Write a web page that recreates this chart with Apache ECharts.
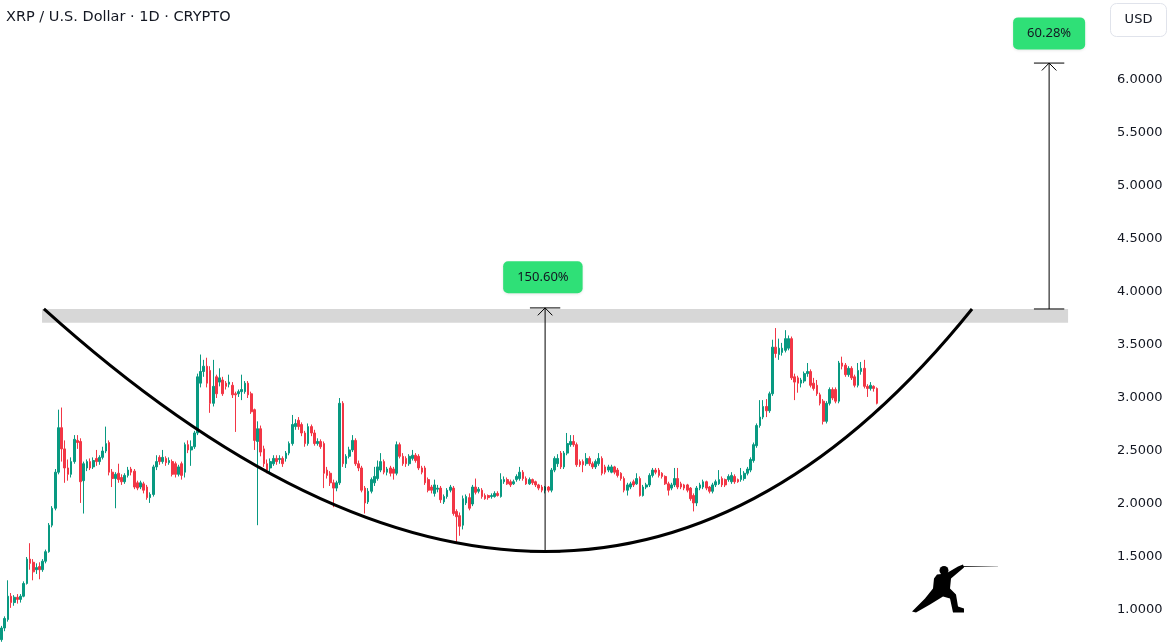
<!DOCTYPE html>
<html>
<head>
<meta charset="utf-8">
<script src="https://cdn.jsdelivr.net/npm/echarts@6/dist/echarts.min.js"></script>
<style>
  html, body { margin: 0; padding: 0; background: #fff; }
  #main { width: 1174px; height: 642px; }
</style>
</head>
<body>
<div id="main"></div>
<script>
// XRP / USD daily candles: [open, close, low, high]
const candles = [
  [0.72,0.83,0.70,0.85],[0.83,0.92,0.80,0.94],[0.91,1.13,0.89,1.28],[1.13,1.07,1.02,1.16],[1.07,1.12,1.04,1.14],
  [1.12,1.10,1.06,1.15],[1.10,1.13,1.07,1.15],[1.13,1.25,1.12,1.27],[1.25,1.48,1.24,1.50],[1.48,1.44,1.38,1.63],
  [1.45,1.36,1.28,1.48],[1.38,1.40,1.34,1.44],[1.41,1.38,1.29,1.45],[1.38,1.46,1.36,1.48],[1.46,1.55,1.44,1.57],
  [1.55,1.80,1.54,1.82],[1.80,1.96,1.78,1.98],[1.96,2.30,1.94,2.33],[2.30,2.72,2.28,2.89],[2.72,2.52,2.40,2.91],
  [2.52,2.34,2.20,2.60],[2.34,2.28,2.22,2.42],[2.28,2.40,2.25,2.44],[2.40,2.61,2.38,2.65],[2.60,2.58,2.52,2.65],
  [2.59,2.21,2.01,2.62],[2.22,2.38,1.91,2.40],[2.34,2.40,2.31,2.42],[2.40,2.34,2.32,2.43],[2.35,2.41,2.33,2.44],
  [2.43,2.40,2.36,2.51],[2.40,2.44,2.37,2.46],[2.44,2.50,2.42,2.54],[2.50,2.57,2.48,2.73],[2.58,2.30,2.27,2.60],
  [2.30,2.24,2.16,2.33],[2.24,2.28,1.96,2.30],[2.29,2.23,2.20,2.38],[2.25,2.21,2.18,2.28],[2.21,2.27,2.19,2.29],
  [2.27,2.32,2.25,2.35],[2.33,2.30,2.27,2.35],[2.31,2.16,2.14,2.33],[2.20,2.15,2.13,2.22],[2.16,2.20,2.14,2.22],
  [2.19,2.13,2.10,2.21],[2.16,2.06,2.04,2.18],[2.06,2.09,2.01,2.11],[2.09,2.35,2.07,2.37],[2.35,2.40,2.32,2.46],
  [2.44,2.40,2.37,2.46],[2.40,2.44,2.38,2.51],[2.43,2.39,2.36,2.45],[2.39,2.41,2.37,2.44],[2.40,2.28,2.26,2.42],
  [2.38,2.28,2.25,2.40],[2.28,2.35,2.26,2.37],[2.38,2.27,2.23,2.40],[2.30,2.56,2.25,2.58],[2.56,2.51,2.48,2.60],
  [2.51,2.54,2.36,2.60],[2.54,2.67,2.52,2.69],[2.67,3.20,2.65,3.23],[3.14,3.25,3.10,3.41],[3.25,3.30,3.20,3.36],
  [3.30,3.14,3.10,3.38],[3.26,2.95,2.86,3.30],[2.95,3.11,2.92,3.36],[3.20,3.04,3.00,3.22],[3.15,3.19,3.11,3.28],
  [3.17,3.04,3.02,3.20],[3.14,3.11,3.08,3.16],[3.13,3.15,3.10,3.22],[3.12,3.03,3.00,3.15],[3.04,3.03,2.68,3.06],
  [3.04,3.06,3.01,3.08],[3.06,3.08,2.98,3.22],[3.06,3.14,3.04,3.16],[3.14,3.03,3.00,3.16],[3.04,2.87,2.85,3.06],
  [2.89,2.60,2.51,2.90],[2.59,2.71,1.80,2.78],[2.71,2.49,2.45,2.74],[2.52,2.38,2.35,2.55],[2.38,2.32,2.29,2.42],
  [2.34,2.40,2.30,2.43],[2.38,2.43,2.36,2.46],[2.43,2.40,2.37,2.46],[2.42,2.43,2.38,2.46],[2.43,2.38,2.35,2.45],
  [2.43,2.48,2.40,2.50],[2.48,2.57,2.46,2.59],[2.57,2.75,2.55,2.84],[2.73,2.76,2.70,2.80],[2.79,2.73,2.70,2.82],
  [2.75,2.67,2.64,2.77],[2.67,2.57,2.54,2.69],[2.57,2.73,2.55,2.76],[2.73,2.67,2.64,2.75],[2.67,2.57,2.55,2.70],
  [2.57,2.59,2.55,2.62],[2.59,2.54,2.52,2.61],[2.57,2.29,2.15,2.59],[2.32,2.27,2.24,2.35],[2.29,2.20,2.17,2.31],
  [2.20,2.15,1.97,2.23],[2.15,2.20,2.12,2.22],[2.20,2.95,2.18,3.00],[2.95,2.38,2.35,2.97],[2.38,2.45,2.34,2.47],
  [2.45,2.51,2.43,2.54],[2.51,2.60,2.49,2.65],[2.60,2.38,2.36,2.62],[2.38,2.34,2.31,2.41],[2.34,2.13,2.11,2.36],
  [2.15,2.01,1.91,2.17],[2.02,2.12,2.00,2.15],[2.12,2.23,2.10,2.25],[2.20,2.26,2.17,2.35],[2.24,2.35,2.22,2.41],
  [2.32,2.40,2.30,2.48],[2.40,2.30,2.28,2.42],[2.30,2.33,2.27,2.35],[2.34,2.29,2.26,2.36],[2.33,2.29,2.23,2.35],
  [2.29,2.56,2.27,2.59],[2.56,2.45,2.43,2.58],[2.45,2.38,2.36,2.48],[2.43,2.38,2.35,2.45],[2.38,2.45,2.36,2.47],
  [2.43,2.46,2.41,2.51],[2.46,2.41,2.39,2.48],[2.45,2.34,2.32,2.47],[2.34,2.30,2.28,2.36],[2.34,2.20,2.18,2.36],
  [2.23,2.13,2.11,2.25],[2.16,2.13,2.10,2.18],[2.10,2.18,2.07,2.23],[2.14,2.15,2.11,2.18],[2.15,2.04,2.01,2.17],
  [2.02,2.07,2.00,2.09],[2.07,2.13,2.05,2.15],[2.13,2.16,2.11,2.18],[2.15,1.91,1.89,2.17],[1.93,1.88,1.63,1.95],
  [1.89,1.79,1.70,1.92],[1.80,2.05,1.76,2.08],[2.01,2.07,1.99,2.09],[2.06,1.96,1.94,2.10],[2.00,2.16,1.98,2.18],
  [2.16,2.11,2.09,2.24],[2.12,2.14,2.10,2.16],[2.13,2.07,2.05,2.15],[2.08,2.05,2.04,2.10],[2.08,2.06,2.04,2.09],
  [2.07,2.08,2.05,2.10],[2.07,2.10,2.06,2.12],[2.10,2.08,2.07,2.12],[2.07,2.23,2.06,2.29],[2.21,2.23,2.19,2.26],
  [2.23,2.19,2.18,2.25],[2.21,2.18,2.16,2.23],[2.19,2.21,2.18,2.23],[2.23,2.26,2.21,2.28],[2.24,2.30,2.22,2.35],
  [2.30,2.24,2.22,2.32],[2.24,2.19,2.18,2.26],[2.19,2.23,2.18,2.25],[2.23,2.20,2.18,2.24],[2.21,2.18,2.16,2.22],
  [2.18,2.15,2.13,2.19],[2.16,2.13,2.11,2.18],[2.13,2.16,2.10,2.17],[2.16,2.13,2.11,2.17],[2.13,2.32,2.11,2.34],
  [2.32,2.43,2.30,2.45],[2.38,2.43,2.35,2.47],[2.48,2.35,2.33,2.50],[2.35,2.48,2.33,2.50],[2.48,2.57,2.46,2.67],
  [2.56,2.59,2.54,2.65],[2.59,2.56,2.54,2.65],[2.56,2.37,2.35,2.58],[2.40,2.37,2.35,2.42],[2.40,2.37,2.30,2.42],
  [2.38,2.43,2.36,2.48],[2.43,2.38,2.36,2.45],[2.38,2.35,2.33,2.40],[2.35,2.40,2.33,2.42],[2.38,2.43,2.36,2.48],
  [2.43,2.29,2.27,2.45],[2.35,2.30,2.28,2.37],[2.32,2.35,2.30,2.37],[2.30,2.35,2.29,2.37],[2.35,2.30,2.28,2.36],
  [2.32,2.27,2.25,2.34],[2.29,2.24,2.22,2.30],[2.24,2.13,2.11,2.26],[2.13,2.18,2.08,2.20],[2.16,2.19,2.14,2.21],
  [2.21,2.18,2.16,2.23],[2.19,2.24,2.18,2.29],[2.24,2.08,2.07,2.26],[2.08,2.16,2.07,2.18],[2.16,2.18,2.14,2.20],
  [2.18,2.27,2.16,2.29],[2.27,2.32,2.25,2.34],[2.32,2.30,2.28,2.34],[2.32,2.27,2.25,2.34],[2.29,2.26,2.24,2.30],
  [2.26,2.19,2.18,2.27],[2.19,2.13,2.08,2.21],[2.15,2.18,2.13,2.20],[2.18,2.24,2.16,2.34],[2.24,2.16,2.14,2.34],
  [2.19,2.16,2.14,2.21],[2.18,2.15,2.13,2.19],[2.18,2.13,2.11,2.19],[2.15,2.05,2.03,2.16],[2.08,2.01,1.93,2.10],
  [2.01,2.15,1.98,2.17],[2.15,2.18,2.13,2.20],[2.16,2.21,2.14,2.23],[2.21,2.15,2.13,2.22],[2.16,2.12,2.10,2.17],
  [2.12,2.18,2.10,2.20],[2.18,2.21,2.16,2.23],[2.19,2.23,2.18,2.32],[2.24,2.18,2.16,2.26],[2.23,2.18,2.16,2.24],
  [2.23,2.26,2.21,2.28],[2.21,2.27,2.19,2.30],[2.26,2.21,2.19,2.28],[2.23,2.21,2.20,2.24],[2.23,2.27,2.21,2.34],
  [2.24,2.29,2.22,2.31],[2.29,2.33,2.27,2.35],[2.32,2.42,2.30,2.44],[2.41,2.56,2.39,2.58],[2.55,2.74,2.53,2.76],
  [2.74,2.82,2.72,2.98],[2.82,2.92,2.80,2.98],[2.92,2.88,2.82,2.99],[2.88,3.04,2.86,3.06],[3.04,3.48,3.02,3.55],
  [3.48,3.42,3.38,3.66],[3.41,3.47,3.36,3.56],[3.43,3.47,3.40,3.52],[3.45,3.56,3.43,3.64],[3.47,3.56,3.45,3.59],
  [3.56,3.19,3.17,3.58],[3.20,3.15,2.98,3.23],[3.19,3.14,3.05,3.21],[3.14,3.17,3.10,3.19],[3.16,3.23,3.14,3.25],
  [3.23,3.25,3.20,3.33],[3.25,3.12,3.10,3.27],[3.14,3.09,3.07,3.19],[3.12,3.04,3.02,3.17],[3.03,2.95,2.93,3.05],
  [2.97,2.78,2.75,2.99],[2.78,2.95,2.76,2.97],[2.95,3.08,2.93,3.10],[3.08,3.00,2.98,3.10],[3.08,2.97,2.95,3.10],
  [2.97,3.33,2.95,3.35],[3.33,3.30,3.27,3.39],[3.31,3.22,3.20,3.33],[3.22,3.28,3.20,3.30],[3.28,3.19,3.17,3.30],
  [3.20,3.12,3.10,3.22],[3.12,3.26,3.10,3.33],[3.25,3.28,3.22,3.34],[3.28,3.11,3.09,3.36],[3.11,3.09,3.01,3.13],
  [3.09,3.12,3.07,3.15],[3.11,3.09,3.06,3.12],[3.09,2.95,2.94,3.10]
];
const firstDay = '2024-11-13';
const slotCount = 350;            // daily slots incl. empty space to the right
const priceTicks = [1.0, 1.5, 2.0, 2.5, 3.0, 3.5, 4.0, 4.5, 5.0, 5.5, 6.0];
const priceMin = 0.698, priceMax = 6.755;

// drawings, in (slot, price) units
const resistanceBand = { from: 13.3, to: 338, low: 3.71, high: 3.84 };
// cup arc: quadratic curve start / control / end
const cupArc = [[13.9, 3.84], [184.2, -0.736], [307.6, 3.84]];
const moves = [
  { x: 172.5, from: 1.547, to: 3.85, text: '150.60%', labelX: 171.8, labelY: 4.14 },
  { x: 332.0, from: 3.84, to: 6.16, text: '60.28%', labelX: 332.0, labelY: 6.44 }
];

const UP = '#089981', DOWN = '#f23645';
const FONT = 'Noto Sans';
const AXIS_FONT = 'DejaVu Sans';

// day labels for the slots
const days = [];
const d0 = new Date(firstDay + 'T00:00:00Z');
for (let i = 0; i < slotCount; i++) {
  const d = new Date(d0.getTime() + i * 86400000);
  days.push(d.toISOString().slice(0, 10));
}

// arrow pieces: shaft, caps, chevron
const arrowSegs = [];
moves.forEach(m => {
  arrowSegs.push({ coords: [[m.x, m.from], [m.x, m.to]] });
  arrowSegs.push({ coords: [[m.x - 4.8, m.to], [m.x + 4.8, m.to]] });
  arrowSegs.push({ coords: [[m.x - 4.8, m.from], [m.x + 4.8, m.from]] });
  arrowSegs.push({ coords: [[m.x - 2.3, m.to - 0.07], [m.x, m.to], [m.x + 2.3, m.to - 0.07]] });
});

const chart = echarts.init(document.getElementById('main'), null, { renderer: 'canvas' });

chart.setOption({
  animation: false,
  backgroundColor: '#ffffff',
  title: {
    text: 'XRP / U.S. Dollar · 1D · CRYPTO',
    left: 1, top: 5,
    textStyle: { fontFamily: AXIS_FONT, fontSize: 14.5, fontWeight: 'normal', color: '#131722' }
  },
  grid: { left: 0, right: 68, top: 0, bottom: 0 },
  xAxis: [
    { type: 'category', data: days, boundaryGap: true, show: false },
    { type: 'value', min: 0, max: slotCount, show: false }
  ],
  yAxis: {
    type: 'value', position: 'right', min: priceMin, max: priceMax,
    axisLine: { show: false }, axisTick: { show: false }, splitLine: { show: false },
    axisLabel: {
      customValues: priceTicks,
      margin: 11, color: '#131722', fontFamily: AXIS_FONT, fontSize: 13,
      formatter: v => v.toFixed(4)
    }
  },
  series: [
    {
      type: 'line', xAxisIndex: 1, data: [], silent: true, z: 1,
      markArea: {
        silent: true,
        itemStyle: { color: '#d7d7d7' },
        data: [[
          { coord: [resistanceBand.from, resistanceBand.high] },
          { coord: [resistanceBand.to, resistanceBand.low] }
        ]]
      }
    },
    {
      type: 'candlestick', data: candles, barWidth: 2.2, z: 3,
      itemStyle: { color: UP, color0: DOWN, borderColor: UP, borderColor0: DOWN, borderWidth: 1 }
    },
    {
      type: 'custom', xAxisIndex: 1, z: 5, silent: true,
      data: [[cupArc[1][0], 2]],
      renderItem: (params, api) => {
        const p0 = api.coord(cupArc[0]);
        const p1 = api.coord(cupArc[1]);
        const p2 = api.coord(cupArc[2]);
        return {
          type: 'bezierCurve',
          shape: { x1: p0[0], y1: p0[1], cpx1: p1[0], cpy1: p1[1], x2: p2[0], y2: p2[1] },
          style: { stroke: '#000', lineWidth: 3, fill: null }
        };
      }
    },
    {
      type: 'lines', coordinateSystem: 'cartesian2d', xAxisIndex: 1, polyline: true,
      data: arrowSegs, z: 6,
      lineStyle: { color: '#000', width: 1, opacity: 1 }
    },
    {
      type: 'scatter', xAxisIndex: 1, symbolSize: 1, z: 7,
      itemStyle: { color: 'rgba(0,0,0,0)', opacity: 1 },
      data: moves.map(m => ({ value: [m.labelX, m.labelY], name: m.text })),
      label: {
        show: true, position: 'inside', formatter: p => p.name,
        fontFamily: FONT, fontSize: 13, color: '#131722', lineHeight: 15,
        backgroundColor: '#2fe077', borderRadius: 5,
        padding: [9, 14, 8, 14],
        shadowColor: 'rgba(0,0,0,0.10)', shadowBlur: 3, shadowOffsetY: 1
      }
    }
  ],
  graphic: [
    {
      type: 'group', left: 1110, top: 3,
      children: [
        { type: 'rect', shape: { x: 0, y: 0, width: 56, height: 33, r: 6 },
          style: { fill: '#fff', stroke: '#e0e3eb', lineWidth: 1 } },
        { type: 'text', x: 28, y: 16.5,
          style: { text: 'USD', fontFamily: AXIS_FONT, fontSize: 13, fill: '#131722', align: 'center', verticalAlign: 'middle' } }
      ]
    },
    {
      type: 'group', left: 912, top: 564,
      children: [
        { type: 'line', shape: { x1: 50, y1: 4, x2: 86, y2: 4 },
          style: { lineWidth: 1.2, stroke: new echarts.graphic.LinearGradient(0, 0, 1, 0, [
            { offset: 0, color: '#111' }, { offset: 1, color: 'rgba(0,0,0,0.15)' }]) } },
        { type: 'circle', shape: { cx: 32, cy: 8, r: 4.5 }, style: { fill: '#000' } },
        { type: 'polygon', shape: { points: [
          [25, 12], [34, 11], [46, 4], [51, 2], [52, 5], [39, 16], [38, 26],
          [44, 32], [46, 44], [52, 46], [52, 50], [41, 50], [38, 36], [31, 34],
          [18, 42], [4, 50], [0, 49], [13, 36], [21, 26], [22, 16]
        ] }, style: { fill: '#000' } }
      ]
    }
  ]
});
</script>
</body>
</html>
